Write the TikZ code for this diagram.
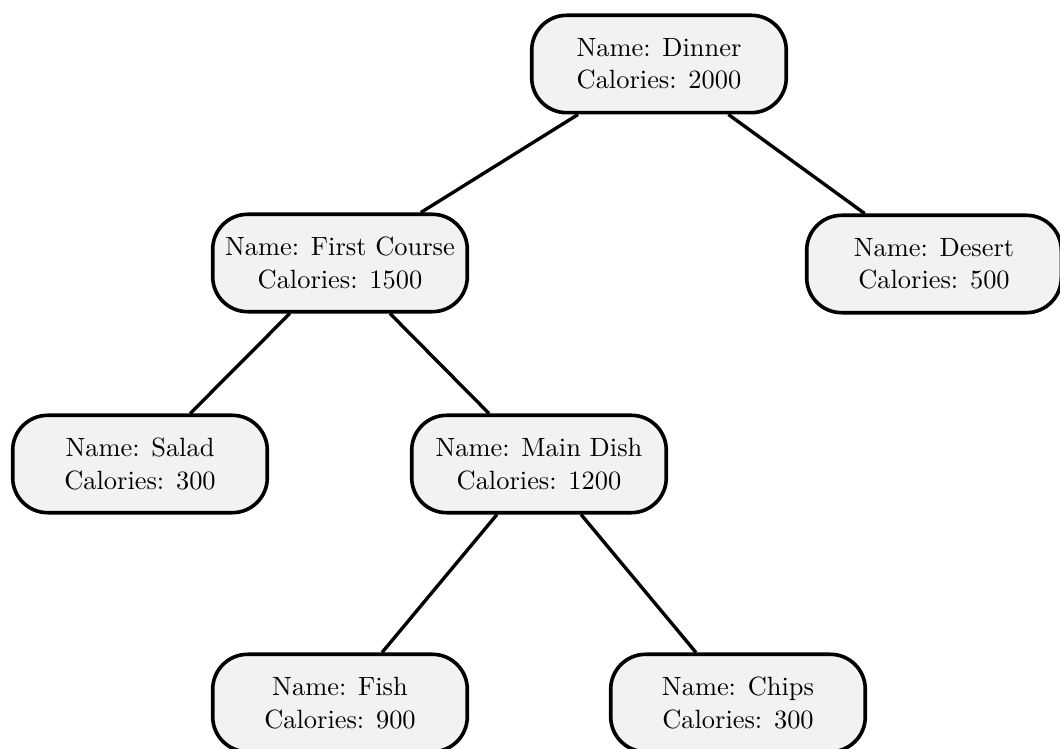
\documentclass[tikz,border=0pt]{standalone}
\begin{document}
\begin{tikzpicture}[x=0.3861pt,y=-0.3861pt,
  item/.style={draw=black, line width=1.4pt, fill=gray!10, rectangle,
    rounded corners=13.5pt, minimum width=98.3pt, minimum height=37.6pt,
    align=center, inner sep=2pt, font=\fontsize{10.2}{12.5}\selectfont},
  link/.style={draw=black, line width=1.3pt}]
  \useasboundingbox (0,0) rectangle (1060,749);

  % menu tree
  \node[item] (dinner) at (659,64)  {Name: Dinner\\Calories: 2000};
  \node[item] (first)  at (340,263) {Name: First Course\\Calories: 1500};
  \node[item] (desert) at (934,264) {Name: Desert\\Calories: 500};
  \node[item] (salad)  at (140,464) {Name: Salad\\Calories: 300};
  \node[item] (main)   at (539,464) {Name: Main Dish\\Calories: 1200};
  \node[item] (fish)   at (340,703) {Name: Fish\\Calories: 900};
  \node[item] (chips)  at (738,703) {Name: Chips\\Calories: 300};

  % parent-child links
  \draw[link] (dinner) -- (first);
  \draw[link] (dinner) -- (desert);
  \draw[link] (first) -- (salad);
  \draw[link] (first) -- (main);
  \draw[link] (main) -- (fish);
  \draw[link] (main) -- (chips);
\end{tikzpicture}
\end{document}
